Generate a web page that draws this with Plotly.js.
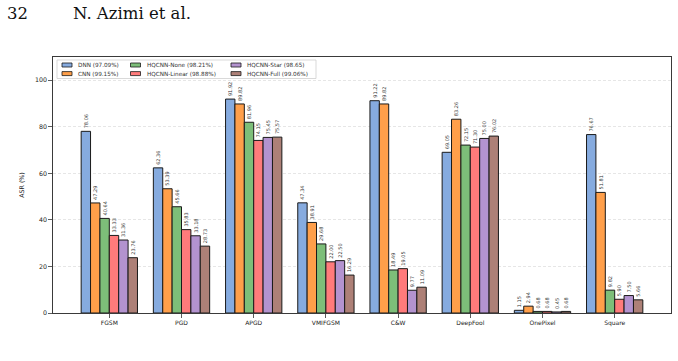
<!DOCTYPE html>
<html>
<head>
<meta charset="utf-8">
<script src="https://cdn.plot.ly/plotly-3.0.1.min.js"></script>
<style>
  html, body { margin: 0; padding: 0; background: #fff; }
  #chart { width: 678px; height: 361px; }
</style>
</head>
<body>
<div id="chart"></div>
<script>
// Attack success rate (%) per attack, for each model
const attacks = ['FGSM', 'PGD', 'APGD', 'VMIFGSM', 'C&W', 'DeepFool', 'OnePixel', 'Square'];
const modelNames = ['DNN (97.09%)', 'CNN (99.15%)', 'HQCNN-None (98.21%)',
                    'HQCNN-Linear (98.88%)', 'HQCNN-Star (98.65)', 'HQCNN-Full (99.06%)'];

const asrDNN         = [78.06, 62.36, 91.92, 47.34, 91.22, 69.05, 1.15, 76.67];
const asrCNN         = [47.29, 53.39, 89.82, 38.91, 89.82, 83.26, 2.94, 51.81];
const asrHQCNNNone   = [40.64, 45.66, 81.96, 29.68, 18.49, 72.15, 0.68, 9.82];
const asrHQCNNLinear = [33.33, 35.83, 74.15, 22.00, 19.05, 71.30, 0.68, 5.90];
const asrHQCNNStar   = [31.36, 33.18, 75.45, 22.50, 9.77, 75.00, 0.45, 7.50];
const asrHQCNNFull   = [23.76, 28.73, 75.57, 16.29, 11.09, 76.02, 0.68, 5.66];

const yTicks = [0, 20, 40, 60, 80, 100];

const series = [asrDNN, asrCNN, asrHQCNNNone, asrHQCNNLinear, asrHQCNNStar, asrHQCNNFull];
const colors = ['#86abdf', '#ff9f4a', '#7dbe79', '#ff7b7b', '#b393cf', '#ad8077'];

const FONT = 'DejaVu Sans, sans-serif';

const traces = series.map((vals, i) => ({
  type: 'bar',
  name: modelNames[i],
  x: attacks,
  y: vals,
  marker: { color: colors[i], line: { color: '#1a1a1a', width: 1 } },
  texttemplate: '%{y:.2f}',
  textposition: 'outside',
  textangle: -90,
  constraintext: 'none',
  cliponaxis: false,
  textfont: { family: FONT, size: 5, color: '#333' },
  showlegend: false,
  hoverinfo: 'skip'
}));

// plot-area geometry (pixels) used to place the legend box and header in paper units
const M = { l: 53, r: 7, t: 57, b: 48 };
const W = 678, H = 361;
const PW = W - M.l - M.r, PH = H - M.t - M.b;
const px = v => (v - M.l) / PW;
const py = v => (H - M.b - v) / PH;

const shapes = [];
const annotations = [];

// legend frame
shapes.push({
  type: 'rect', xref: 'paper', yref: 'paper',
  x0: px(57), x1: px(316), y0: py(60), y1: py(78.5),
  line: { color: '#cfcfcf', width: 0.8 }, fillcolor: 'rgba(255,255,255,0.85)', layer: 'above'
});

// three legend columns, two rows each
const colX = [62, 130.5, 231];
const rowY = [65, 73.6];
modelNames.forEach((name, i) => {
  const c = Math.floor(i / 2), r = i % 2;
  const x0 = colX[c], yc = rowY[r];
  shapes.push({
    type: 'rect', xref: 'paper', yref: 'paper',
    x0: px(x0), x1: px(x0 + 10), y0: py(yc + 2), y1: py(yc - 2),
    line: { color: '#1a1a1a', width: 0.8 }, fillcolor: colors[i], layer: 'above'
  });
  annotations.push({
    xref: 'paper', yref: 'paper', x: px(x0 + 14), y: py(yc),
    xanchor: 'left', yanchor: 'middle', showarrow: false,
    text: name, font: { family: FONT, size: 5.7, color: '#333' }
  });
});

// running header of the page
const HEADER_FONT = { family: 'DejaVu Serif, serif', size: 16.5, color: '#111' };
annotations.push({
  xref: 'paper', yref: 'paper', x: px(5), y: py(13),
  xanchor: 'left', yanchor: 'middle', showarrow: false,
  text: '32', font: HEADER_FONT
});
annotations.push({
  xref: 'paper', yref: 'paper', x: px(71), y: py(13),
  xanchor: 'left', yanchor: 'middle', showarrow: false,
  text: 'N. Azimi et al.', font: HEADER_FONT
});

const layout = {
  width: W, height: H,
  margin: M,
  paper_bgcolor: '#fff', plot_bgcolor: '#fff',
  barmode: 'group',
  bargap: 0.22,
  bargroupgap: 0,
  showlegend: false,
  font: { family: FONT, color: '#222' },
  xaxis: {
    type: 'category',
    range: [-0.78, 7.78],
    showgrid: false, zeroline: false,
    showline: true, linecolor: '#3a3a3a', linewidth: 1.2, mirror: true,
    ticks: 'outside', ticklen: 3.5, tickwidth: 0.8, tickcolor: '#333',
    tickfont: { family: FONT, size: 6, color: '#222' }
  },
  yaxis: {
    range: [0, 110],
    tickvals: yTicks,
    ticktext: yTicks.map(String),
    showgrid: true, gridcolor: '#dcdcdc', gridwidth: 0.7, griddash: '3px,2px',
    zeroline: false,
    showline: true, linecolor: '#3a3a3a', linewidth: 1.2, mirror: true,
    ticks: 'outside', ticklen: 3.5, tickwidth: 0.8, tickcolor: '#333',
    tickfont: { family: FONT, size: 6.3, color: '#222' },
    title: { text: 'ASR (%)', font: { family: FONT, size: 6.3, color: '#222' }, standoff: 9 }
  },
  shapes: shapes,
  annotations: annotations
};

Plotly.newPlot('chart', traces, layout, { staticPlot: true, displayModeBar: false });
</script>
</body>
</html>
